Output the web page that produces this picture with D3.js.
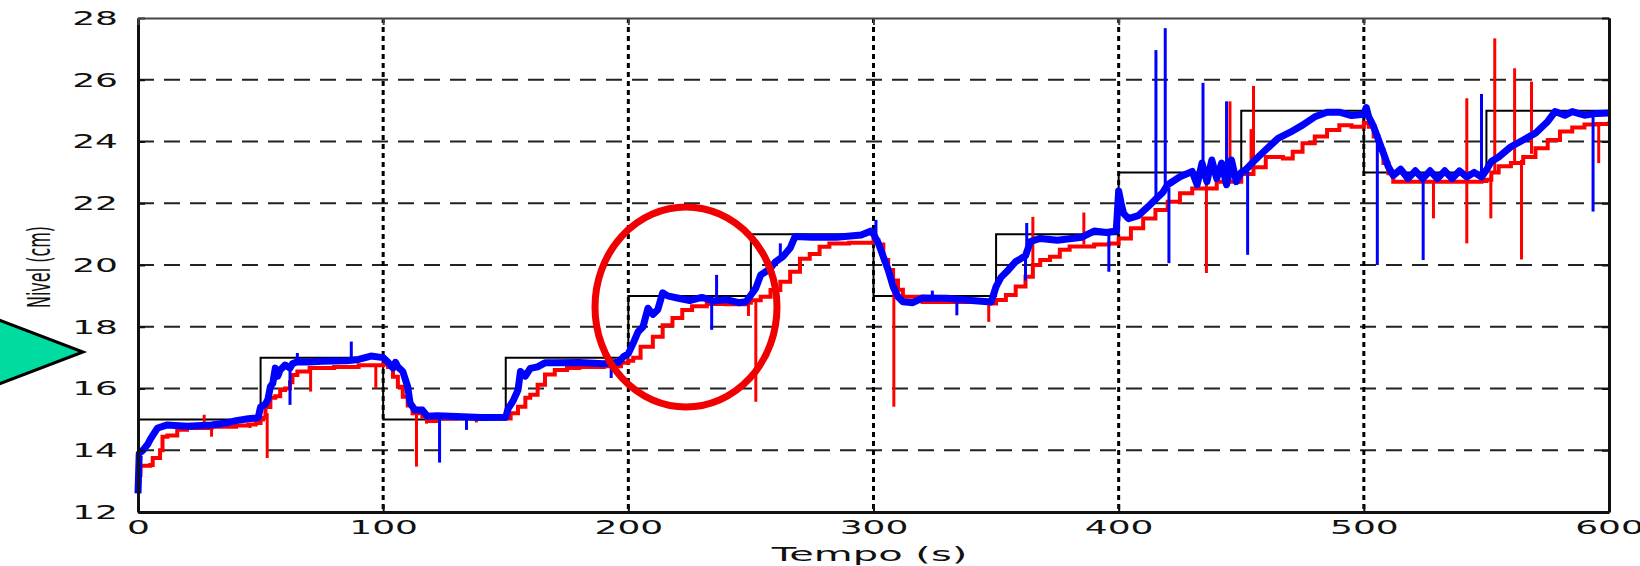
<!DOCTYPE html>
<html>
<head>
<meta charset="utf-8">
<script src="https://cdn.jsdelivr.net/npm/d3@7"></script>
<style>
  body { margin: 0; background: #fff; }
  svg { display: block; }
  text { font-family: "DejaVu Sans", sans-serif; fill: #111; }
</style>
</head>
<body>
<div id="chart"></div>
<script>
// tick labels
const xTicks = [0, 100, 200, 300, 400, 500, 600];
const yTicks = [12, 14, 16, 18, 20, 22, 24, 26, 28];

// setpoint (reference level), one value per 50 s step
const stepTimes = [0, 50, 100, 150, 200, 250, 300, 350, 400, 450, 500, 550, 600];
const setpoint = [15, 17, 15, 17, 19, 21, 19, 21, 23, 25, 23, 25, 25];

// red trace [time, level]
const redPts = [
  [0, 13.2], [1, 13.5], [5, 13.52], [6, 13.75], [9, 14.0], [10, 14.44], [12, 14.48], [16, 14.66],
  [20, 14.72], [30, 14.76], [40, 14.8], [45, 14.83], [48, 14.88], [50, 15.0], [51, 15.05], [52, 15.4],
  [54, 15.7], [56, 15.75], [58, 15.95], [60, 16.0], [62, 16.2], [63, 16.44], [65, 16.55], [70, 16.66],
  [75, 16.66], [80, 16.7], [90, 16.75], [100, 16.78],
  [102, 16.7], [104, 16.38], [106, 16.06], [108, 15.73], [110, 15.45], [112, 15.2], [116, 15.09],
  [118, 14.95], [122, 15.03], [130, 15.06], [150, 15.03], [152, 15.2], [155, 15.41], [158, 15.7],
  [160, 15.8], [163, 16.12], [166, 16.45], [170, 16.6], [175, 16.66], [180, 16.7], [190, 16.72],
  [197, 16.83], [200, 16.9],
  [202, 17.0], [205, 17.35], [210, 17.68], [214, 18.05], [218, 18.28], [222, 18.54], [226, 18.66],
  [232, 18.74], [240, 18.73], [248, 18.78], [250, 18.86], [254, 18.97], [258, 19.19], [262, 19.46],
  [266, 19.78], [270, 20.2], [274, 20.36], [278, 20.59], [282, 20.7], [290, 20.72], [300, 20.8],
  [302, 20.66], [304, 20.16], [306, 19.84], [308, 19.5], [310, 19.2], [312, 18.97], [320, 18.8],
  [340, 18.8], [348, 18.75], [350, 18.87], [354, 19.03], [358, 19.3], [362, 19.62], [365, 20.0],
  [368, 20.16], [372, 20.27], [376, 20.49], [380, 20.6], [390, 20.66], [396, 20.7], [400, 20.86],
  [405, 21.19], [410, 21.51], [415, 21.78], [420, 22.05], [425, 22.32], [430, 22.48], [440, 22.7],
  [450, 22.95], [455, 23.17], [460, 23.5], [463, 23.5], [467, 23.45], [471, 23.67], [475, 23.94],
  [480, 24.16], [485, 24.37], [490, 24.53], [495, 24.48], [500, 24.6],
  [502, 24.48], [504, 24.16], [506, 23.73], [508, 23.3], [510, 22.97], [512, 22.7], [520, 22.7],
  [548, 22.72], [550, 22.76], [552, 23.0], [555, 23.2], [560, 23.3], [565, 23.5], [570, 23.78],
  [575, 24.05], [580, 24.32], [585, 24.45], [590, 24.55], [595, 24.57], [600, 24.65]
];

// blue trace [time, level]
const bluePts = [
  [0, 12.6], [0.5, 13.9], [2, 14.0], [4, 14.2], [5, 14.35], [7, 14.6], [8, 14.72], [12, 14.82],
  [20, 14.78], [30, 14.82], [36, 14.88], [40, 14.96], [45, 15.02], [49, 15.05], [50, 15.4], [52, 15.5],
  [53, 15.65], [54, 16.06], [55, 16.17], [56, 16.66], [57, 16.4], [58, 16.6], [60, 16.76], [62, 16.66],
  [63, 16.8], [65, 16.87], [70, 16.86], [75, 16.88], [85, 16.9], [90, 16.94], [95, 17.05], [100, 17.0],
  [102, 16.85], [104, 16.66], [105, 16.85], [106, 16.7], [108, 16.55], [110, 16.06], [111, 15.52],
  [113, 15.3], [116, 15.3], [118, 15.1], [122, 15.12], [130, 15.09], [140, 15.06], [150, 15.07],
  [151, 15.35], [153, 15.6], [155, 15.95], [156, 16.55], [158, 16.4], [160, 16.65], [163, 16.7],
  [166, 16.83], [170, 16.83], [180, 16.84], [190, 16.8], [196, 16.85], [198, 17.03], [200, 17.13],
  [202, 17.47], [204, 17.84], [206, 18.0], [208, 18.6], [210, 18.4], [212, 18.55], [214, 19.1],
  [216, 19.0], [220, 18.93], [225, 18.85], [230, 18.95], [235, 18.83], [240, 18.88], [245, 18.78],
  [248, 18.81], [250, 19.03], [252, 19.25], [254, 19.68], [256, 19.78], [258, 19.9], [260, 20.1],
  [263, 20.27], [266, 20.55], [268, 20.92], [275, 20.9], [285, 20.9], [295, 20.97], [299, 21.1],
  [300, 21.0],
  [302, 20.7], [304, 20.27], [306, 19.84], [308, 19.3], [310, 18.97], [312, 18.81], [316, 18.78],
  [320, 18.93], [330, 18.92], [340, 18.85], [348, 18.8], [350, 19.3], [352, 19.6], [355, 19.84],
  [358, 20.11], [360, 20.2], [362, 20.3], [364, 20.76], [368, 20.86], [375, 20.8], [385, 20.9],
  [390, 21.1], [395, 21.05], [399, 21.1],
  [400, 22.4], [401, 22.0], [402, 21.67], [404, 21.5], [408, 21.6], [412, 21.89], [416, 22.2],
  [418, 22.35], [420, 22.6], [425, 22.86], [430, 23.03], [432, 22.6], [434, 23.3], [436, 22.7],
  [438, 23.4], [440, 22.8], [442, 23.3], [444, 22.6], [446, 23.4], [448, 22.7], [450, 23.0],
  [452, 23.1], [455, 23.35], [460, 23.73], [465, 24.1], [470, 24.3], [475, 24.53], [480, 24.8],
  [485, 24.95], [490, 24.95], [495, 24.84], [500, 24.88],
  [501, 25.1], [502, 24.8], [504, 24.48], [506, 24.05], [508, 23.62], [510, 23.18], [512, 22.9],
  [515, 23.1], [518, 22.8], [521, 23.05], [524, 22.8], [527, 23.05], [530, 22.8], [533, 23.05],
  [536, 22.8], [539, 23.05], [542, 22.85], [545, 23.0], [548, 22.85], [550, 23.08], [552, 23.35],
  [555, 23.5], [560, 23.83], [565, 24.05], [570, 24.27], [575, 24.65], [578, 24.97], [582, 24.85],
  [585, 24.97], [590, 24.85], [595, 24.91], [600, 24.92]
];

// short spikes [time, low, high]
const blueSpikes = [
  [62, 15.47, 16.7], [65, 16.8, 17.15], [87, 16.9, 17.52], [123, 13.6, 15.1], [134, 14.66, 15.06],
  [193, 16.34, 16.8], [234, 17.9, 18.9], [236, 18.9, 19.68], [262, 20.2, 20.7], [301, 20.9, 21.46],
  [324, 18.9, 19.17], [334, 18.37, 18.9], [362, 19.5, 20.3], [362.5, 20.3, 21.36], [396, 19.78, 21.05],
  [415.2, 22.1, 26.96], [419, 22.4, 27.67], [420.5, 20.06, 22.5], [434.4, 22.8, 25.9],
  [444, 22.9, 25.3], [452.6, 20.33, 23.1], [505.5, 20.0, 24.0], [524.2, 20.16, 22.9],
  [548, 22.85, 25.54], [593.5, 21.73, 24.9]
];
const redSpikes = [
  [27, 14.76, 15.15], [30, 14.44, 14.76], [45.7, 14.72, 14.83], [52.7, 13.75, 15.2], [70.4, 15.9, 16.66],
  [97, 16.0, 16.78], [113.6, 13.47, 15.3], [117.7, 14.86, 15.1], [138, 14.9, 15.06], [249, 18.35, 18.8],
  [252, 15.57, 18.9], [308.3, 15.41, 19.5], [347, 18.16, 18.75], [365, 20.0, 21.56], [385.8, 20.66, 21.7],
  [435.8, 19.74, 22.6], [445.4, 22.7, 25.3], [454, 23.1, 24.4], [455, 23.17, 25.8], [528.4, 21.51, 22.7],
  [542, 20.7, 25.4], [551.8, 21.51, 22.9], [553.4, 23.0, 27.34], [561.5, 23.3, 26.37],
  [564.3, 20.18, 23.4], [568.4, 23.6, 25.94], [595.8, 23.3, 24.6]
];

const W = 1640, H = 566;
const pLeft = 138, pRight = 1609, pTop = 18, pBottom = 512;
const sx = 1.8; // the figure is stretched sideways

const svg = d3.select("#chart").append("svg")
  .attr("width", W)
  .attr("height", H);

const x = d3.scaleLinear().domain([0, 600]).range([pLeft, pRight]);
const y = d3.scaleLinear().domain([12, 28]).range([pBottom, pTop]);

// grid
svg.append("g")
  .selectAll("line")
  .data(yTicks.slice(1, -1))
  .join("line")
  .attr("x1", pLeft).attr("x2", pRight)
  .attr("y1", d => y(d)).attr("y2", d => y(d))
  .attr("stroke", "#222")
  .attr("stroke-width", 2)
  .attr("stroke-dasharray", "16,10");

svg.append("g")
  .selectAll("line")
  .data(xTicks.slice(1, -1))
  .join("line")
  .attr("x1", d => x(d)).attr("x2", d => x(d))
  .attr("y1", pTop).attr("y2", pBottom)
  .attr("stroke", "#000")
  .attr("stroke-width", 3)
  .attr("stroke-dasharray", "5,4");

// data
const plot = svg.append("g");

const stepLine = d3.line()
  .x((d, i) => x(stepTimes[i]))
  .y(d => y(d))
  .curve(d3.curveStepAfter);

plot.append("path")
  .attr("d", stepLine(setpoint))
  .attr("fill", "none")
  .attr("stroke", "#000")
  .attr("stroke-width", 2);

const redLine = d3.line().x(d => x(d[0])).y(d => y(d[1])).curve(d3.curveStepAfter);
const blueLine = d3.line().x(d => x(d[0])).y(d => y(d[1]));

plot.append("path")
  .attr("d", redLine(redPts))
  .attr("fill", "none")
  .attr("stroke", "#ff0000")
  .attr("stroke-width", 4);

plot.append("g")
  .selectAll("line")
  .data(redSpikes)
  .join("line")
  .attr("x1", d => x(d[0])).attr("x2", d => x(d[0]))
  .attr("y1", d => y(d[1])).attr("y2", d => y(d[2]))
  .attr("stroke", "#ff0000")
  .attr("stroke-width", 3);

plot.append("path")
  .attr("d", blueLine(bluePts))
  .attr("fill", "none")
  .attr("stroke", "#0000ff")
  .attr("stroke-width", 7)
  .attr("stroke-linejoin", "round");

plot.append("g")
  .selectAll("line")
  .data(blueSpikes)
  .join("line")
  .attr("x1", d => x(d[0])).attr("x2", d => x(d[0]))
  .attr("y1", d => y(d[1])).attr("y2", d => y(d[2]))
  .attr("stroke", "#0000ff")
  .attr("stroke-width", 3);

// axes
const xAxis = svg.append("g")
  .attr("transform", `translate(0,${pBottom})`)
  .call(d3.axisBottom(x).tickValues(xTicks).tickSizeInner(-7).tickSizeOuter(0).tickPadding(8));
xAxis.selectAll("text")
  .style("font-size", "20px")
  .attr("transform", `scale(${sx},1)`);

const yAxis = svg.append("g")
  .attr("transform", `translate(${pLeft},0)`)
  .call(d3.axisLeft(y).tickValues(yTicks).tickSizeInner(-7).tickSizeOuter(0));
yAxis.selectAll("text")
  .style("font-size", "20px")
  .attr("x", -20 / sx)
  .attr("transform", `scale(${sx},1)`);

const topAxis = svg.append("g")
  .attr("transform", `translate(0,${pTop})`)
  .call(d3.axisTop(x).tickValues(xTicks).tickSizeInner(-7).tickSizeOuter(0).tickFormat(""));
const rightAxis = svg.append("g")
  .attr("transform", `translate(${pRight},0)`)
  .call(d3.axisRight(y).tickValues(yTicks).tickSizeInner(-7).tickSizeOuter(0).tickFormat(""));

[xAxis, yAxis, rightAxis].forEach(a => {
  a.select(".domain").attr("stroke", "#111").attr("stroke-width", 3);
  a.selectAll(".tick line").attr("stroke", "#111").attr("stroke-width", 2);
});
topAxis.select(".domain").attr("stroke", "#444").attr("stroke-width", 2);
topAxis.selectAll(".tick line").attr("stroke", "#444").attr("stroke-width", 2);

// axis titles
svg.append("text")
  .attr("transform", `translate(${(pLeft + pRight) / 2 - 4},561) scale(2.0,1)`)
  .attr("text-anchor", "middle")
  .style("font-size", "20px")
  .text("Tempo (s)");

svg.append("text")
  .attr("transform", `translate(50,267) scale(2,1) rotate(-90)`)
  .attr("text-anchor", "middle")
  .style("font-size", "16px")
  .text("Nivel (cm)");

// annotations
svg.append("polygon")
  .attr("points", "-6,318 83,352 -6,386")
  .attr("fill", "#00dba0")
  .attr("stroke", "#000")
  .attr("stroke-width", 3);

svg.append("ellipse")
  .attr("cx", 686).attr("cy", 307)
  .attr("rx", 91).attr("ry", 100)
  .attr("fill", "none")
  .attr("stroke", "#f00000")
  .attr("stroke-width", 7);
</script>
</body>
</html>
